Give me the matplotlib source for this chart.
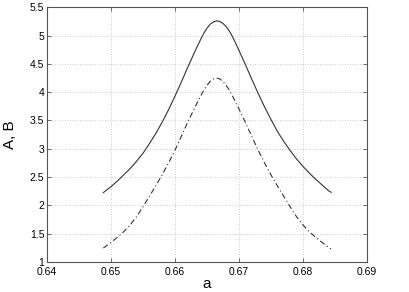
import numpy as np
import matplotlib
matplotlib.use('Agg')
import matplotlib.pyplot as plt

plt.rcParams['font.family'] = ['Liberation Sans', 'DejaVu Sans']

# values
a_A = [0.6488, 0.650, 0.651, 0.652, 0.653, 0.654, 0.655, 0.656, 0.657, 0.658,
       0.659, 0.660, 0.661, 0.662, 0.663, 0.664, 0.6645, 0.665, 0.6655, 0.666,
       0.6665, 0.667, 0.6675, 0.668, 0.6685, 0.669, 0.670, 0.671, 0.672, 0.673,
       0.674, 0.675, 0.676, 0.677, 0.678, 0.679, 0.680, 0.681, 0.682, 0.683,
       0.684, 0.6844]
A = [2.225, 2.33, 2.43, 2.54, 2.65, 2.78, 2.92, 3.09, 3.27, 3.47,
     3.69, 3.93, 4.18, 4.44, 4.69, 4.93, 5.04, 5.13, 5.20, 5.24,
     5.26, 5.25, 5.215, 5.16, 5.08, 4.98, 4.74, 4.49, 4.23, 3.98,
     3.74, 3.52, 3.31, 3.13, 2.97, 2.82, 2.69, 2.57, 2.46, 2.36,
     2.26, 2.23]

a_B = [0.6488, 0.650, 0.651, 0.652, 0.653, 0.654, 0.655, 0.656, 0.657, 0.658,
       0.659, 0.660, 0.661, 0.662, 0.663, 0.664, 0.6645, 0.665, 0.6655, 0.666,
       0.6665, 0.667, 0.6675, 0.668, 0.6685, 0.669, 0.670, 0.671, 0.672, 0.673,
       0.674, 0.675, 0.676, 0.677, 0.678, 0.679, 0.680, 0.681, 0.682, 0.683,
       0.684, 0.6844]
B = [1.245, 1.345, 1.435, 1.535, 1.655, 1.80, 1.975, 2.16, 2.345, 2.54,
     2.75, 2.975, 3.22, 3.47, 3.705, 3.93, 4.035, 4.12, 4.19, 4.235,
     4.25, 4.235, 4.19, 4.12, 4.035, 3.93, 3.705, 3.47, 3.22, 2.975,
     2.75, 2.54, 2.345, 2.16, 1.975, 1.80, 1.655, 1.535, 1.435, 1.345,
     1.26, 1.23]

fig = plt.figure(figsize=(4.09, 2.92), dpi=100)
ax = fig.add_axes([0.115, 0.103, 0.782, 0.872])

ax.plot(a_A, A, color='#333333', lw=0.8, ls='-')
ax.plot(a_B, B, color='#333333', lw=0.8, ls='-.', dashes=(5, 2.5, 1, 2.5))

ax.set_xlim(0.64, 0.69)
ax.set_ylim(1, 5.5)
ax.set_xticks(np.arange(0.64, 0.6901, 0.01))
ax.set_xticklabels(['0.64', '0.65', '0.66', '0.67', '0.68', '0.69'])
ax.set_yticks(np.arange(1, 5.51, 0.5))
ax.set_yticklabels(['1', '1.5', '2', '2.5', '3', '3.5', '4', '4.5', '5', '5.5'])

ax.grid(True, color='#bbbbbb', ls=(0, (1, 2)), lw=0.6)
ax.tick_params(direction='in', top=True, right=True, length=3, width=0.6,
               labelsize=7.5, pad=2, colors='#555555', labelcolor='black')
ax.tick_params(axis='x', pad=4)
for s in ax.spines.values():
    s.set_color('#555555')
    s.set_linewidth(0.8)

ax.set_xlabel('a', fontsize=11, labelpad=0)
ax.set_ylabel('A, B', fontsize=11, labelpad=9)

fig.savefig('out.png', dpi=100)
plt.close()
